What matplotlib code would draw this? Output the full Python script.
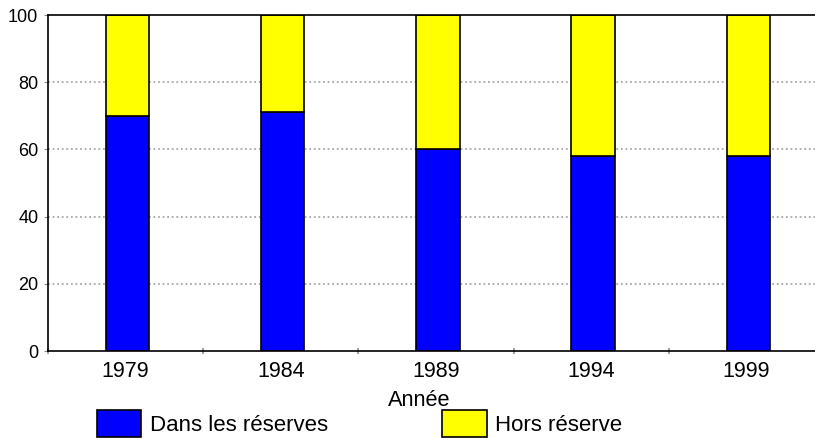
import matplotlib
matplotlib.use('Agg')
from matplotlib import pyplot as plt
from matplotlib.ticker import FixedLocator
import numpy as np

annees = ['1979', '1984', '1989', '1994', '1999']
dans_reserves = [70, 71, 60, 58, 58]
hors_reserve = [30, 29, 40, 42, 42]
y_ticks = [0, 20, 40, 60, 80, 100]

plt.rcParams['font.family'] = ['Liberation Sans', 'DejaVu Sans']

fig = plt.figure(figsize=(8.15, 4.38), dpi=100)
ax = fig.add_axes([48 / 815, 1 - 351 / 438, 776 / 815, 336 / 438])

x = np.arange(len(annees))
xb = x + 0.012   # bars sit slightly right of slot centre
width = 0.28
ax.bar(xb, dans_reserves, width, color='#0000ff', edgecolor='black',
       linewidth=1.2, label='Dans les réserves', zorder=3)
ax.bar(xb, hors_reserve, width, bottom=dans_reserves, color='#ffff00',
       edgecolor='black', linewidth=1.2, label='Hors réserve', zorder=3)

ax.set_xlim(-0.5, len(annees) - 0.5)
ax.set_ylim(0, 100)

# dotted grid
for v in y_ticks[1:-1]:
    ax.axhline(v, color='#999999', linestyle=(0, (1.2, 1.8)), linewidth=1.1, zorder=1)

for s in ['top', 'left', 'bottom']:
    ax.spines[s].set_linewidth(1.2)
    ax.spines[s].set_zorder(4)
ax.spines['right'].set_visible(False)

ax.set_yticks(y_ticks)
ax.set_yticklabels([str(v) for v in y_ticks], fontsize=13)
ax.yaxis.set_tick_params('major', length=3, color='#888888', pad=4)

ax.set_xticks(x)
ax.set_xticklabels(annees, fontsize=15.5)
ax.xaxis.set_tick_params('major', length=0, pad=7)
ax.xaxis.set_minor_locator(FixedLocator(np.arange(-0.5, len(annees), 1.0)))
ax.xaxis.set_tick_params('minor', length=5, direction='inout', color='#888888', width=1.1)

fig.text(419.5 / 815, 1 - 400 / 438, 'Année', fontsize=15.7, ha='center', va='center')

fig.legend(loc='upper left', bbox_to_anchor=(97 / 815, 1 - 410 / 438), ncol=2,
           fontsize=16, frameon=False, handlelength=2.0, handleheight=1.5,
           handletextpad=0.38, columnspacing=5.15, borderaxespad=0, borderpad=0)

fig.savefig('out.png', dpi=100)
